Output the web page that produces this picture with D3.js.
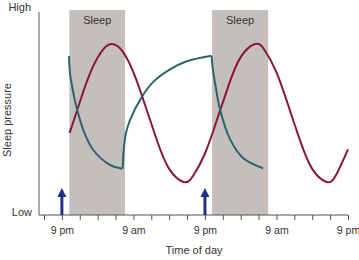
<!DOCTYPE html>
<html>
<head>
<meta charset="utf-8">
<script src="https://cdn.jsdelivr.net/npm/d3@7"></script>
<style>
  body { margin: 0; background: #fff; }
  text { font-family: "Liberation Sans", Arial, sans-serif; fill: #333; }
</style>
</head>
<body>
<svg id="chart"></svg>
<script>
// hours counted from 6 pm of day 1 (18) to 9 pm of day 3 (69)
var tickHours = d3.range(18, 70, 3);
var labelHours = [21, 33, 45, 57, 69];
var labelText = ["9 pm", "9 am", "9 pm", "9 am", "9 pm"];

// sleep periods [start, end] in hours
var sleepPeriods = [[22.25, 31.6], [46.2, 55.6]];

// lights-off arrows
var arrowHours = [21, 45];

// circadian curve (red), [hour, level 0-100]
var circadianPoints = [
  [22.3, 40], [24, 55], [26, 71], [28, 81], [29.4, 83.4], [31, 80.5],
  [33, 69.6], [35, 53.3], [37, 36], [39, 22.5], [41.4, 16.1], [43, 19],
  [45, 30], [47, 46.3], [49, 63.5], [51, 77], [53.4, 83.4], [55, 80.5],
  [57, 69.6], [59, 53.3], [61, 36], [63, 22.5], [65.4, 16.1], [67, 19.5], [69, 32]
];

// homeostatic curve (teal), three segments
var sleepDecay1 = [[22.2, 77.6], [22.36, 69.3], [22.92, 59.5], [23.49, 52.2], [24.59, 41.5],
  [26.27, 31.7], [29.07, 24.4], [31.1, 22.6]];
var wakeRise = [[31.2, 22.6], [31.42, 33.2], [31.75, 40], [32.43, 46.3], [34.39, 57.5],
  [36.29, 64.8], [39.14, 71], [41.94, 75], [46.1, 77.7]];
var sleepDecay2 = [[46.1, 77.7], [46.35, 70.5], [46.69, 64.5], [47.53, 51.5], [49.21, 37],
  [51.39, 27.8], [54.75, 22.8]];

var width = 359, height = 260;
var svg = d3.select("#chart").attr("width", width).attr("height", height);

var x = d3.scaleLinear().domain([18, 69]).range([44, 348]);
var y = d3.scaleLinear().domain([0, 100]).range([215, 10]);

// sleep bands
svg.selectAll("rect.sleep")
  .data(sleepPeriods)
  .enter()
  .append("rect")
  .attr("class", "sleep")
  .attr("x", d => x(d[0]))
  .attr("width", d => x(d[1]) - x(d[0]))
  .attr("y", y(100))
  .attr("height", y(0) - y(100))
  .attr("fill", "#c5bfbb");

svg.selectAll("text.sleep")
  .data(sleepPeriods)
  .enter()
  .append("text")
  .attr("x", d => (x(d[0]) + x(d[1])) / 2)
  .attr("y", 24)
  .attr("text-anchor", "middle")
  .style("font-size", "11px")
  .text("Sleep");

// x axis
var xAxis = d3.axisBottom(x)
  .tickValues(tickHours)
  .tickSize(5)
  .tickFormat(h => {
    var i = labelHours.indexOf(h);
    return i >= 0 ? labelText[i] : "";
  });

var gx = svg.append("g")
  .attr("transform", `translate(0,${y(0)})`)
  .call(xAxis);
gx.select(".domain").attr("d", `M39,0H${x(69)}`).attr("stroke", "#555");
gx.selectAll(".tick line").attr("stroke", "#555");
gx.selectAll(".tick text")
  .attr("dy", "1.05em")
  .style("font-size", "10.5px")
  .style("font-family", "Liberation Sans, Arial, sans-serif")
  .attr("fill", "#333");

// y axis line
svg.append("line")
  .attr("x1", 39).attr("x2", 39)
  .attr("y1", y(0)).attr("y2", 12)
  .attr("stroke", "#555");

svg.append("text").attr("x", 31).attr("y", 11).attr("text-anchor", "end")
  .style("font-size", "11px").text("High");
svg.append("text").attr("x", 32).attr("y", 216).attr("text-anchor", "end")
  .style("font-size", "11px").text("Low");

svg.append("text")
  .attr("transform", "rotate(-90)")
  .attr("x", -120)
  .attr("y", 11)
  .attr("text-anchor", "middle")
  .style("font-size", "11px")
  .text("Sleep pressure");

svg.append("text")
  .attr("x", 194)
  .attr("y", 254)
  .attr("text-anchor", "middle")
  .style("font-size", "11px")
  .text("Time of day");

// curves
var line = d3.line()
  .x(d => x(d[0]))
  .y(d => y(d[1]))
  .curve(d3.curveCatmullRom.alpha(0.5));

svg.append("path")
  .datum(circadianPoints)
  .attr("d", d3.line().x(d => x(d[0])).y(d => y(d[1])).curve(d3.curveNatural))
  .attr("fill", "none")
  .attr("stroke", "#8a1538")
  .attr("stroke-width", 2);

[sleepDecay1, wakeRise, sleepDecay2].forEach(seg => {
  svg.append("path")
    .datum(seg)
    .attr("d", line)
    .attr("fill", "none")
    .attr("stroke", "#2c6470")
    .attr("stroke-width", 2);
});

// arrows
arrowHours.forEach(h => {
  svg.append("line")
    .attr("x1", x(h)).attr("x2", x(h))
    .attr("y1", y(0)).attr("y2", 196)
    .attr("stroke", "#1f3185")
    .attr("stroke-width", 3);
  svg.append("path")
    .attr("d", `M${x(h) - 4.5},197L${x(h)},188L${x(h) + 4.5},197Z`)
    .attr("fill", "#1f3185");
});
</script>
</body>
</html>
